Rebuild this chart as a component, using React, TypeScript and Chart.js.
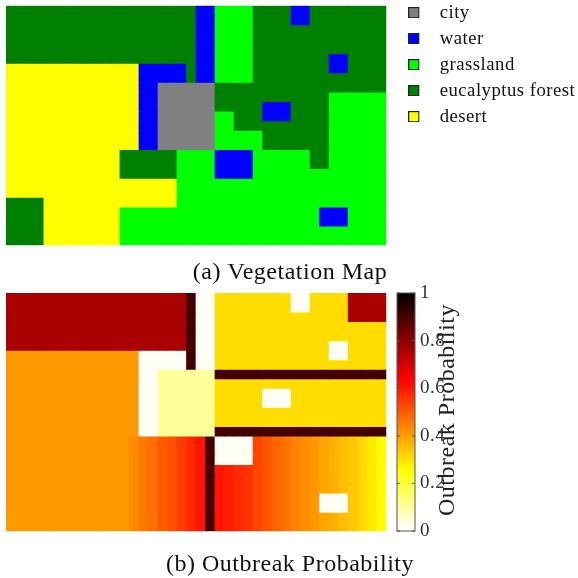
import React, { useEffect, useRef } from "react";
import { Chart, registerables } from "chart.js";

Chart.register(...registerables);

const SERIF = "'Liberation Serif', serif";

const columns = Array.from({ length: 40 }, (_, i) => String(i));

const vegetationClasses = ["city", "water", "grassland", "eucalyptus forest", "desert"];
const vegetationClassColors = ["#808080", "#0000ff", "#00ff00", "#008000", "#ffff00"];
const vegetationCodes = ["C", "W", "G", "F", "D"];

const vegetationRows = [
  "F20 W2 G4 F4 W2 F8",
  "F20 W2 G4 F4 W2 F8",
  "F20 W2 G4 F14",
  "F20 W2 G4 F14",
  "F20 W2 G4 F14",
  "F20 W2 G4 F8 W2 F4",
  "D14 W5 F1 W2 G4 F8 W2 F4",
  "D14 W5 F1 W2 G4 F14",
  "D14 W2 C6 F18",
  "D14 W2 C6 F12 G6",
  "D14 W2 C6 F5 W3 F4 G6",
  "D14 W2 C6 G2 F3 W3 F4 G6",
  "D14 W2 C6 G2 F10 G6",
  "D14 W2 C6 G5 F7 G6",
  "D14 W2 C6 G5 F7 G6",
  "D12 F6 G4 W4 G6 F2 G6",
  "D12 F6 G4 W4 G6 F2 G6",
  "D12 F6 G4 W4 G14",
  "D18 G22",
  "D18 G22",
  "F4 D14 G22",
  "F4 D8 G21 W3 G4",
  "F4 D8 G21 W3 G4",
  "F4 D8 G28",
  "F4 D8 G28",
];

const outbreakLevels: Record<string, number> = {
  R: 0.757,
  D: 0.903,
  W: 0.01,
  L: 0.102,
  O: 0.406,
  G: 0.305,
};

// Values of the graded bands in the lower part of the probability map:
// the left band starts at column 13, the right band at column 22.
const outbreakBandLeft = [0.426, 0.456, 0.471, 0.5, 0.515, 0.545, 0.575, 0.605];
const outbreakBandRight = [
  0.604, 0.589, 0.572, 0.559, 0.53, 0.508, 0.486, 0.464, 0.441, 0.425, 0.41, 0.388, 0.374, 0.351,
  0.336, 0.311, 0.284, 0.254,
];

const outbreakRows = [
  "R19 D1 W2 G8 W2 G4 R4",
  "R19 D1 W2 G8 W2 G4 R4",
  "R19 D1 W2 G14 R4",
  "R19 D1 W2 G18",
  "R19 D1 W2 G18",
  "R19 D1 W2 G12 W2 G4",
  "O14 W5 D1 W2 G12 W2 G4",
  "O14 W5 D1 W2 G18",
  "O14 W2 L6 D18",
  "O14 W2 L6 G18",
  "O14 W2 L6 G5 W3 G10",
  "O14 W2 L6 G5 W3 G10",
  "O14 W2 L6 G18",
  "O14 W2 L6 G18",
  "O14 W2 L6 D18",
  "O13 a8 D1 W4 b14",
  "O13 a8 D1 W4 b14",
  "O13 a8 D1 W4 b14",
  "O13 a8 D1 b18",
  "O13 a8 D1 b18",
  "O13 a8 D1 b18",
  "O13 a8 D1 b11 W3 b4",
  "O13 a8 D1 b11 W3 b4",
  "O13 a8 D1 b18",
  "O13 a8 D1 b18",
];

const colorbarTicks = [0, 0.2, 0.4, 0.6, 0.8, 1];
const colorbarLevelCount = 64;

const captionA = "(a) Vegetation Map";
const captionB = "(b) Outbreak Probability";
const colorbarLabel = "Outbreak Probability";

function clamp01(v: number) {
  return Math.max(0, Math.min(1, v));
}

// Inverted "hot" colour map.
function hotReversed(v: number) {
  const t = 1 - v;
  const r = clamp01(t / 0.365);
  const g = clamp01((t - 0.365) / 0.381);
  const b = clamp01((t - 0.746) / 0.254);
  return `rgb(${Math.round(r * 255)},${Math.round(g * 255)},${Math.round(b * 255)})`;
}

function expand(row: string) {
  const out: string[] = [];
  row.split(" ").forEach((run) => {
    const n = parseInt(run.slice(1), 10);
    for (let i = 0; i < n; i++) out.push(run[0]);
  });
  return out;
}

function vegetationColor(code: string) {
  return vegetationClassColors[vegetationCodes.indexOf(code)];
}

function outbreakColors(row: string) {
  return expand(row).map((c, col) => {
    if (c === "a") return hotReversed(outbreakBandLeft[col - 13]);
    if (c === "b") return hotReversed(outbreakBandRight[col - 22]);
    return hotReversed(outbreakLevels[c]);
  });
}

function heatDatasets(rows: string[], colorsOf: (r: string) => string[]) {
  return rows.map((row, rowIndex) => ({
    label: `row ${rowIndex}`,
    data: columns.map(() => [rowIndex, rowIndex + 1]),
    backgroundColor: colorsOf(row),
    borderWidth: 0,
    inflateAmount: 0.5,
    grouped: false,
    barPercentage: 1,
    categoryPercentage: 1,
  }));
}

const spacingPlugin = (spacing: string) => ({
  id: "textSpacing",
  beforeUpdate(chart: any) {
    chart.ctx.letterSpacing = spacing;
  },
  beforeDraw(chart: any) {
    chart.ctx.letterSpacing = spacing;
  },
});

function swatch(color: string) {
  const c = document.createElement("canvas");
  c.width = 22;
  c.height = 11;
  const g = c.getContext("2d") as CanvasRenderingContext2D;
  g.fillStyle = color;
  g.fillRect(0, 0, 11, 11);
  g.strokeStyle = "#222";
  g.lineWidth = 1;
  g.strokeRect(0.5, 0.5, 10, 10);
  return c;
}

function panelConfig(datasets: any[], caption: string, padTop: number, titlePad: number, withLegend: boolean) {
  const plugins: any[] = [spacingPlugin("0.5px")];
  if (withLegend) {
    plugins.push({
      id: "legendPlacement",
      afterLayout(chart: any) {
        const legend = chart.legend;
        legend.left = 401;
        legend.right = 578;
        legend.top = -4;
        legend.bottom = 140;
      },
    });
  }
  return {
    type: "bar" as const,
    data: { labels: columns, datasets },
    plugins,
    options: {
      animation: false as const,
      responsive: false,
      layout: { padding: { left: 6, right: 4, top: padTop, bottom: 0 } },
      scales: {
        x: { type: "category" as const, display: false },
        y: {
          type: "linear" as const,
          position: "right" as const,
          min: 0,
          max: 25,
          reverse: true,
          ticks: { display: false },
          grid: { display: false },
          border: { display: false },
          afterFit(scale: any) {
            scale.width = 187.7;
          },
        },
      },
      plugins: {
        tooltip: { enabled: false },
        title: {
          display: true,
          text: caption,
          position: "bottom" as const,
          color: "#111",
          padding: { top: titlePad, bottom: 0 },
          font: { family: SERIF, size: 24, weight: "normal" as const, lineHeight: 1.2 },
        },
        legend: withLegend
          ? {
              display: true,
              position: "chartArea" as const,
              align: "start" as const,
              onClick: () => {},
              labels: {
                usePointStyle: true,
                pointStyleWidth: 22,
                boxHeight: 11,
                padding: 7.3,
                color: "#111",
                font: { family: SERIF, size: 18.7 },
                generateLabels: () =>
                  vegetationClasses.map((text, i) => ({
                    text,
                    fontColor: "#111",
                    fillStyle: vegetationClassColors[i],
                    strokeStyle: "#222",
                    lineWidth: 1,
                    pointStyle: swatch(vegetationClassColors[i]),
                    hidden: false,
                  })),
              },
            }
          : { display: false },
      },
    },
  };
}

function colorbarConfig() {
  const datasets = Array.from({ length: colorbarLevelCount }, (_, i) => ({
    label: `level ${i}`,
    data: [[i / colorbarLevelCount, (i + 1) / colorbarLevelCount]],
    backgroundColor: hotReversed((i + 0.5) / colorbarLevelCount),
    borderWidth: 0,
    inflateAmount: 0.5,
    grouped: false,
    barPercentage: 1,
    categoryPercentage: 1,
  }));
  return {
    type: "bar" as const,
    data: { labels: ["colour"], datasets },
    plugins: [
      spacingPlugin("0.5px"),
      {
        id: "colorbarFrame",
        afterDatasetsDraw(chart: any) {
          const { ctx, chartArea: a, scales } = chart;
          ctx.save();
          ctx.strokeStyle = "#555";
          ctx.lineWidth = 1;
          ctx.strokeRect(a.left, a.top, a.right - a.left, a.bottom - a.top);
          colorbarTicks.forEach((t) => {
            const y = scales.y.getPixelForValue(t);
            ctx.beginPath();
            ctx.moveTo(a.right - 3, y);
            ctx.lineTo(a.right, y);
            ctx.moveTo(a.left, y);
            ctx.lineTo(a.left + 3, y);
            ctx.stroke();
          });
          ctx.restore();
        },
        afterDraw(chart: any) {
          const { ctx } = chart;
          ctx.save();
          ctx.translate(63, 140);
          ctx.rotate(-Math.PI / 2);
          ctx.textAlign = "center";
          ctx.textBaseline = "middle";
          ctx.fillStyle = "#222";
          ctx.font = `normal 24px ${SERIF}`;
          ctx.fillText(colorbarLabel, 0, 0);
          ctx.restore();
        },
      },
    ],
    options: {
      animation: false as const,
      responsive: false,
      layout: { padding: { left: 12, right: 0, top: 23, bottom: 17 } },
      scales: {
        x: { type: "category" as const, display: false },
        y: {
          type: "linear" as const,
          position: "right" as const,
          min: 0,
          max: 1,
          afterBuildTicks(scale: any) {
            scale.ticks = colorbarTicks.map((value) => ({ value }));
          },
          ticks: {
            color: "#333",
            padding: 5,
            font: { family: SERIF, size: 19 },
            callback: (v: any) => String(v),
          },
          grid: { display: false, drawTicks: false, tickLength: 0 },
          border: { display: false },
          afterFit(scale: any) {
            scale.width = 163;
          },
        },
      },
      plugins: { tooltip: { enabled: false }, title: { display: false }, legend: { display: false } },
    },
  };
}

const canvasStyle = (left: number, top: number): React.CSSProperties => ({
  position: "absolute",
  left,
  top,
  display: "block",
});

export default function App() {
  const aRef = useRef<HTMLCanvasElement>(null);
  const bRef = useRef<HTMLCanvasElement>(null);
  const cRef = useRef<HTMLCanvasElement>(null);

  useEffect(() => {
    const charts = [
      new Chart(
        aRef.current as HTMLCanvasElement,
        panelConfig(
          heatDatasets(vegetationRows, (r) => expand(r).map(vegetationColor)),
          captionA,
          5.7,
          13,
          true
        ) as any
      ),
      new Chart(
        bRef.current as HTMLCanvasElement,
        panelConfig(heatDatasets(outbreakRows, outbreakColors), captionB, 7, 19, false) as any
      ),
      new Chart(cRef.current as HTMLCanvasElement, colorbarConfig() as any),
    ];
    return () => charts.forEach((c) => c.destroy());
  }, []);

  return (
    <div style={{ position: "absolute", left: 0, top: 0, width: 578, height: 578, overflow: "hidden", background: "#fff" }}>
      <canvas ref={aRef} width={578} height={287} style={canvasStyle(0, 0)} />
      <canvas ref={bRef} width={578} height={293} style={canvasStyle(0, 286)} />
      <canvas ref={cRef} width={193} height={278} style={canvasStyle(385, 270)} />
    </div>
  );
}
